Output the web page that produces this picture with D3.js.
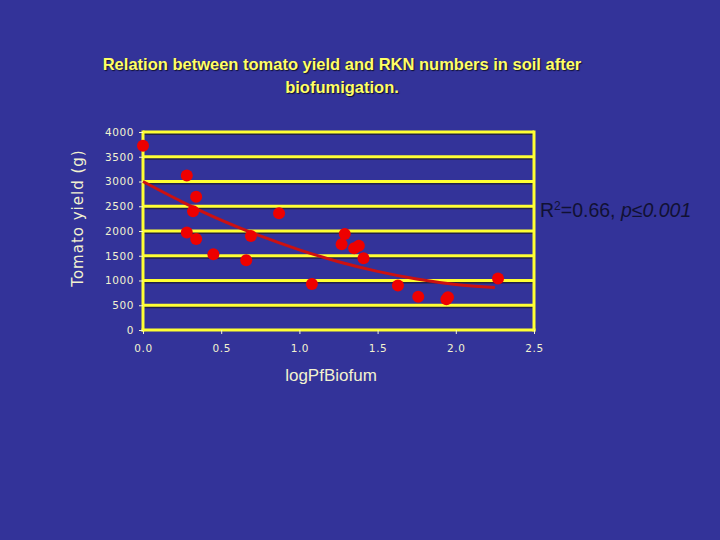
<!DOCTYPE html>
<html><head><meta charset="utf-8">
<script src="https://cdn.jsdelivr.net/npm/d3@7"></script>
<style>
html,body{margin:0;padding:0;background:#333399;}
svg{display:block;}
</style></head>
<body>
<svg id="chart" width="720" height="540"></svg>
<script>
// Data
const pfBiofum = [0.00, 0.28, 0.34, 0.32, 0.28, 0.34, 0.45, 0.66, 0.69, 0.87, 1.08, 1.29, 1.27, 1.35, 1.38, 1.41, 1.63, 1.76, 1.94, 1.95, 2.27];
const yieldG   = [3720, 3120, 2690, 2400, 1970, 1840, 1530, 1410, 1900, 2360, 930, 1940, 1730, 1650, 1700, 1450, 900, 670, 620, 660, 1040];
// Trend line
const trendX = [0, 0.25, 0.5, 0.75, 1.0, 1.25, 1.5, 1.75, 2.0, 2.25];
const trendY = [3000, 2590, 2220, 1900, 1620, 1380, 1185, 1030, 920, 860];
const xTicks = [0, 0.5, 1.0, 1.5, 2.0, 2.5];
const yTicks = [0, 500, 1000, 1500, 2000, 2500, 3000, 3500, 4000];
const titleLines = ["Relation between tomato yield and RKN numbers in soil after", "biofumigation."];
const xTitle = "logPfBiofum";
const yTitle = "Tomato yield (g)";

const svg = d3.select("#chart");
const x = d3.scaleLinear().domain([0, 2.5]).range([143, 534]);
const y = d3.scaleLinear().domain([0, 4000]).range([330, 132]);

const yellow = "#ffff33";
const labelCol = "#f2f2d0";

// title
svg.append("g").selectAll("text").data(titleLines).join("text")
  .attr("x", 342).attr("y", (d, i) => 70 + i * 23)
  .attr("text-anchor", "middle")
  .attr("font-family", "Liberation Sans, Arial, sans-serif")
  .attr("font-weight", "bold").attr("font-size", 16.5)
  .attr("fill", "#ffff66")
  .style("text-shadow", "1px 1px 1px #111133")
  .text(d => d);

// gridlines with shadow
const grid = svg.append("g");
grid.selectAll("line.sh").data(yTicks.filter(d => d > 0)).join("line")
  .attr("x1", x(0)).attr("x2", x(2.5))
  .attr("y1", d => y(d) + 2).attr("y2", d => y(d) + 2)
  .attr("stroke", "#222244").attr("stroke-width", 2);
grid.selectAll("line.g").data(yTicks.filter(d => d > 0)).join("line")
  .attr("x1", x(0)).attr("x2", x(2.5))
  .attr("y1", d => y(d)).attr("y2", d => y(d))
  .attr("stroke", yellow).attr("stroke-width", 3);
// right border
grid.append("line").attr("x1", x(2.5)).attr("x2", x(2.5))
  .attr("y1", y(4000) - 1.5).attr("y2", y(0) + 1.5)
  .attr("stroke", yellow).attr("stroke-width", 3);

// axes
const xAxis = svg.append("g").attr("transform", `translate(0,${y(0)})`)
  .call(d3.axisBottom(x).tickValues(xTicks).tickFormat(d3.format(".1f")).tickSize(4).tickSizeOuter(0));
const yAxis = svg.append("g").attr("transform", `translate(${x(0)},0)`)
  .call(d3.axisLeft(y).tickValues(yTicks).tickFormat(d => d).tickSize(4).tickSizeOuter(0));
[xAxis, yAxis].forEach(a => {
  a.select(".domain").attr("stroke", yellow).attr("stroke-width", 3);
  a.selectAll(".tick line").attr("stroke", labelCol).attr("stroke-width", 1);
  a.selectAll(".tick text").attr("fill", labelCol)
    .attr("font-family", "DejaVu Sans, Verdana, sans-serif").attr("font-size", 10.5)
    .attr("letter-spacing", 0.6);
});
xAxis.selectAll(".tick text").attr("dy", "1.4em");
yAxis.selectAll(".tick text").attr("x", -9);
xAxis.select(".domain").attr("d", `M${x(0) - 1.5},0H${x(2.5) + 1.5}`);
yAxis.select(".domain").attr("d", `M0,${y(0) + 1.5}V${y(4000) - 1.5}`);

// axis titles
svg.append("text").attr("x", 331).attr("y", 381)
  .attr("text-anchor", "middle")
  .attr("font-family", "Liberation Sans, Arial, sans-serif").attr("font-size", 17)
  .attr("fill", labelCol).text(xTitle);
svg.append("text").attr("transform", "translate(83,218) rotate(-90)")
  .attr("text-anchor", "middle")
  .attr("font-family", "DejaVu Sans, Verdana, sans-serif").attr("font-size", 15)
  .attr("letter-spacing", 1)
  .attr("fill", labelCol).text(yTitle);

// trend line
const line = d3.line().x(d => x(d[0])).y(d => y(d[1])).curve(d3.curveMonotoneX);
svg.append("path").datum(trendX.map((d, i) => [d, trendY[i]]))
  .attr("d", line).attr("fill", "none")
  .attr("stroke", "#cc1111").attr("stroke-width", 3);

// points
svg.append("g").selectAll("circle").data(pfBiofum.map((d, i) => [d, yieldG[i]])).join("circle")
  .attr("cx", d => x(d[0])).attr("cy", d => y(d[1])).attr("r", 6)
  .attr("fill", "#ee0000");

// R² annotation
const ann = svg.append("text").attr("x", 540).attr("y", 217)
  .attr("font-family", "Liberation Sans, Arial, sans-serif").attr("font-size", 19.5)
  .attr("fill", "#111133");
ann.append("tspan").text("R");
ann.append("tspan").attr("font-size", 12).attr("dy", -7).text("2");
ann.append("tspan").attr("dy", 7).text("=0.66, ");
ann.append("tspan").attr("font-style", "italic").text("p≤0.001");
</script>
</body></html>
